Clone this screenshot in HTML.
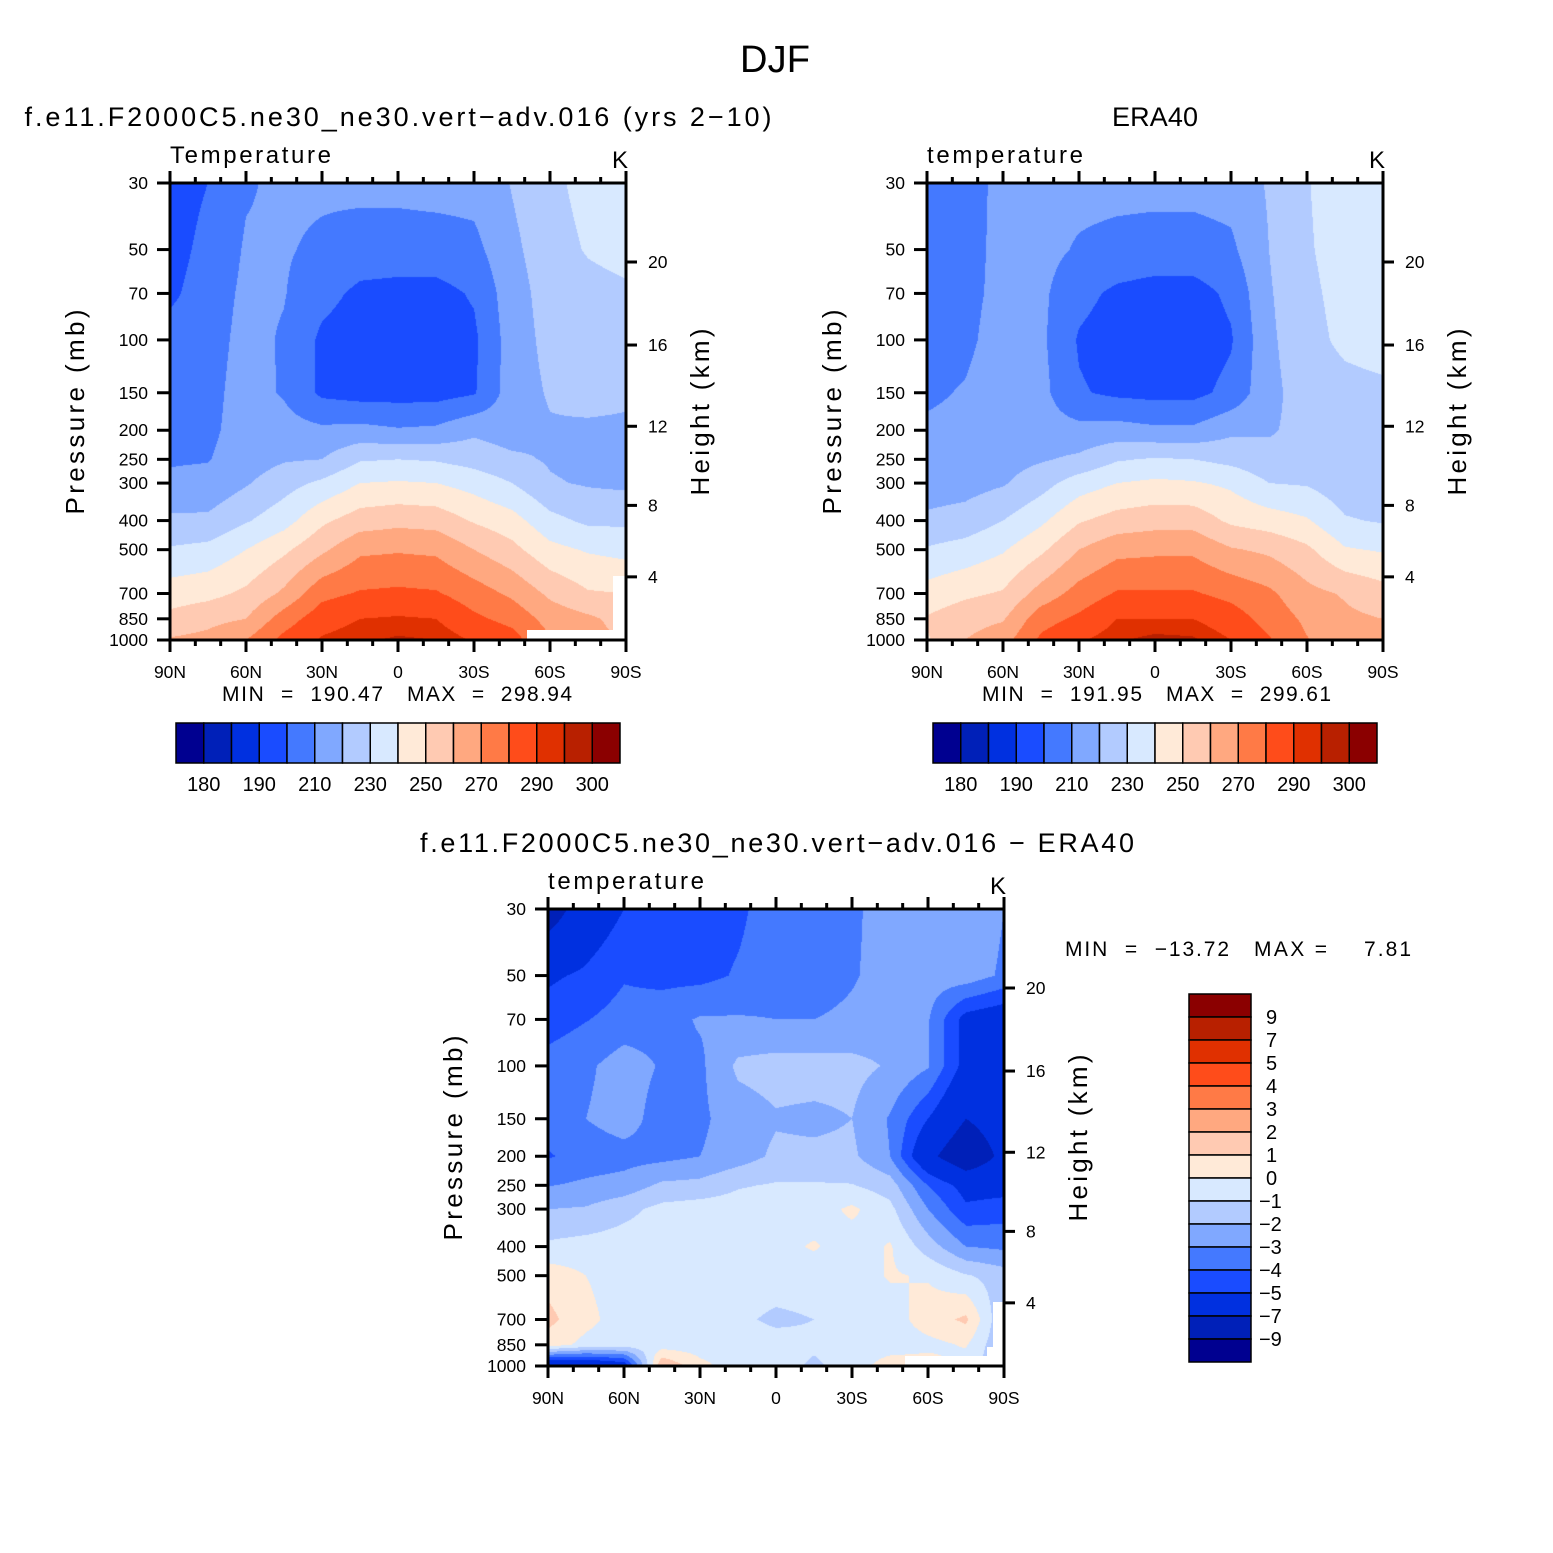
<!DOCTYPE html>
<html><head><meta charset="utf-8"><style>
html,body{margin:0;padding:0;background:#fff;}
#root{position:relative;width:1553px;height:1553px;overflow:hidden;font-family:"Liberation Sans",sans-serif;}
canvas{position:absolute;}
svg{position:absolute;left:0;top:0;}
</style></head><body>
<div id="root">
<canvas id="c1" width="456" height="457" style="left:170px;top:183px"></canvas>
<canvas id="c2" width="456" height="457" style="left:927px;top:183px"></canvas>
<canvas id="c3" width="456" height="457" style="left:548px;top:909px"></canvas>
<svg id="ov" width="1553" height="1553" xmlns="http://www.w3.org/2000/svg"></svg>
</div>
<script>
// ---- data ----
const lats=[90,75,60,45,30,15,0,-15,-30,-45,-60,-75,-90];
const levels=[30,50,70,100,150,200,250,300,400,500,700,850,1000];
// temperature (K), one profile per latitude (levels 30..1000 mb)
const modelT=[
[195,196,198,204,206,207,209,212,222,231,245,253,261],
[200,203,205,206,207,208,209.5,213,222,233,247,257,263],
[209,211,212,213,214,214,215,219,229,240,252,260,270],
[212,211,210.5,209,209,214,219,226,236,248,262,275,283],
[212,208,203,198,198,212,220,232,248,258,277,286,291],
[213,205,198,195,196,213,229,240,255,268,281,290,294],
[213,205,197,194,196,211,230,241,257,269,282,291,296],
[214,205,197,195,196,212,229,240,256,268,281,290,295],
[214,207,201,198,199,218,226,236,249,260,275,282,289],
[220.5,218,216,215,215,215,222,230,244,253,268,277,284],
[227,225,224,223,221,219,219,221,233,243,258,266,271],
[234,231,226,225,224,218,217,219,228,239,251,262,265],
[235,234,228,226,222,218,217,218,228,237,250,256,258]];
const eraT=[
[205,205,206,207,209,211,213,215,222,231,244,251,249],
[207,207.5,208,208.5,210.5,211.5,213,216,224,234,248,256,260],
[212,212,212,213,214,215,216,219,230,239,251,259,266],
[213,213,212,212,213,214,219,226,238,248,264,276,282],
[213,209,203,199,201,213,222,235,249,260,274,282,289],
[213,207,198,195,198,214,229,240,254,267,281,290,294],
[213,206,196,194,197,212,231,242,256,268,281,290,297],
[213,206,196,194,197,212,230,241,256,268,281,290,296],
[214,208,202,199,203,218,227,238,248,261,277,285,290],
[221,220,219,218,217,219,223,230,245,258,272,276,281],
[229.5,229,228,227,225,223,223,229,241,252,263,268,270.5],
[235,234,233,232,227,224,223,224,231,241,259,262,265],
[236,236,235,234,228,225,224,223,229,239,254,260,263]];
// difference (K), one row per level (lats 90N..90S)
const diffT=[
[-8,-6,-5,-4.5,-4.5,-4.2,-3.5,-3.5,-3.2,-2.5,-2.5,-2,-3],
[-5.2,-4.8,-4.1,-4.3,-4.3,-3.9,-3.5,-3.5,-3.1,-2.6,-2.5,-2.4,-3.2],
[-4.5,-4.05,-3.6,-3.4,-2.9,-2.9,-3,-3,-2.8,-2.5,-2.9,-5.5,-6],
[-3.6,-3.2,-2.5,-3.1,-3.2,-1.8,-1.6,-1.6,-1.7,-2.1,-2.9,-5.5,-6],
[-3.5,-3,-2.5,-3.5,-3.2,-2.5,-2.1,-2.2,-2,-3.1,-5,-7,-6],
[-4.1,-3.6,-3.4,-3.3,-3,-2.5,-1.8,-1.8,-1.8,-3,-6.5,-8.5,-6.5],
[-3.05,-2.8,-2.6,-1.8,-1.7,-1.1,-0.9,-0.9,-0.95,-1.5,-4,-5.5,-5.5],
[-2,-1.9,-1.3,-0.7,-0.5,-0.5,-0.5,-0.5,0.2,-0.7,-3,-4.8,-4.5],
[-0.8,-0.6,-0.5,-0.5,-0.5,-0.5,-0.3,0.1,-0.5,0.1,-1.5,-3,-3.2],
[0.6,0,-0.5,-0.5,-0.5,-0.5,-0.5,-0.5,-0.5,0.1,-0.1,-0.9,-1.5],
[1.3,0.3,-0.5,-0.5,-0.5,-0.8,-1.2,-1,-0.5,-0.5,0.5,1.2,-2],
[0.5,-0.3,-0.5,-0.5,-0.5,-0.5,-0.6,-0.8,-0.5,-0.5,-0.3,0.1,-2],
[-7,-7,-6,2,0.3,-0.5,-0.5,-1.2,-0.5,0.5,0.5,-0.5,-2]];
const tempLevels=[180,185,190,200,210,220,230,240,250,260,270,280,290,295,300];
const tempLabels=["180","190","210","230","250","270","290","300"];
const diffLevels=[-9,-7,-5,-4,-3,-2,-1,0,1,2,3,4,5,7,9];
const diffLabels=["9","7","5","4","3","2","1","0","\u22121","\u22122","\u22123","\u22124","\u22125","\u22127","\u22129"];
const pTicks=[30,50,70,100,150,200,250,300,400,500,700,850,1000];
const kmTicks=[4,8,12,16,20];
const kmPressure=[616,356,194,104,55];
const latTickLabels=["90N","60N","30N","0","30S","60S","90S"];
const colors=["#000090","#0020b8","#0030e0","#1a4cff","#4479ff","#80a8ff","#b2cbff","#d8e9ff","#ffead8","#ffcab2","#ffa880","#ff7a46","#ff4c1a","#e03000","#b82000","#8b0000"];

const W=456,H=457;
function yOfP(p){return H*Math.log10(p/30)/Math.log10(1000/30);}
function xOfLat(l){return W*(90-l)/180;}
function hex(c){return [parseInt(c.substr(1,2),16),parseInt(c.substr(3,2),16),parseInt(c.substr(5,2),16)];}
const rgb=colors.map(hex);
function bin(v,lv){let i=0;while(i<lv.length&&v>=lv[i])i++;return i;}

function render(id,get,lv){
  const cv=document.getElementById(id),ctx=cv.getContext('2d');
  const img=ctx.createImageData(W,H);
  const ly=levels.map(yOfP), lx=lats.map(xOfLat);
  for(let py=0;py<H;py++){
    let r=0;while(r<levels.length-2&&py+0.5>ly[r+1])r++;
    let fy=(py+0.5-ly[r])/(ly[r+1]-ly[r]);fy=Math.max(0,Math.min(1,fy));
    for(let px=0;px<W;px++){
      let c=0;while(c<lats.length-2&&px+0.5>lx[c+1])c++;
      let fx=(px+0.5-lx[c])/(lx[c+1]-lx[c]);fx=Math.max(0,Math.min(1,fx));
      const v=(1-fx)*(1-fy)*get(c,r)+fx*(1-fy)*get(c+1,r)+(1-fx)*fy*get(c,r+1)+fx*fy*get(c+1,r+1);
      const k=rgb[bin(v,lv)],o=(py*W+px)*4;
      img.data[o]=k[0];img.data[o+1]=k[1];img.data[o+2]=k[2];img.data[o+3]=255;
    }
  }
  ctx.putImageData(img,0,0);
}
render('c1',(c,r)=>modelT[c][r],tempLevels);
render('c2',(c,r)=>eraT[c][r],tempLevels);
render('c3',(c,r)=>diffT[r][c],diffLevels);

// ---- svg overlay ----
const NS="http://www.w3.org/2000/svg",ov=document.getElementById('ov');
function el(tag,a){const e=document.createElementNS(NS,tag);for(const k in a)e.setAttribute(k,a[k]);ov.appendChild(e);return e;}
function txt(x,y,s,size,anchor,name,extra){const e=el('text',Object.assign({x:x,y:y,'font-size':size,'text-anchor':anchor||'start','font-family':'Liberation Sans, sans-serif',fill:'#000'},extra||{}));e.textContent=s;


return e;}

function axes(ox,oy,pre,sub,subLen){
  const frame=el('rect',{x:ox,y:oy,width:W,height:H,fill:'none',stroke:'#000','stroke-width':3});
  
  
  pTicks.forEach(p=>{const y=oy+yOfP(p);
    const t=el('line',{x1:ox-13,x2:ox,y1:y,y2:y,stroke:'#000','stroke-width':3});
    
    
    txt(ox-22,y+6,String(p),17.5,'end',pre+'-pressure-tick-label');});
  kmTicks.forEach((k,i)=>{const y=oy+yOfP(kmPressure[i]);
    const t=el('line',{x1:ox+W,x2:ox+W+11,y1:y,y2:y,stroke:'#000','stroke-width':3});
    
    
    txt(ox+W+22,y+6,String(k),17.5,'start',pre+'-height-tick-label');});
  for(let l=90;l>=-90;l-=10){const x=ox+xOfLat(l),len=(l%30===0)?12:6;
    const a=el('line',{x1:x,x2:x,y1:oy-len,y2:oy,stroke:'#000','stroke-width':3});
    
    
    const b=el('line',{x1:x,x2:x,y1:oy+H,y2:oy+H+len,stroke:'#000','stroke-width':3});
    
    }
  latTickLabels.forEach((s,i)=>txt(ox+i*W/6,oy+H+38,s,17.5,'middle',pre+'-lat-tick-label'));
  txt(ox,oy-20,sub,24,'start',pre+'-variable-label',{textLength:subLen});
  txt(ox+W-6,oy-15,'K',24,'middle',pre+'-units-label');
  txt(0,0,'Pressure (mb)',26,'middle',pre+'-y-axis-title',{transform:`translate(${ox-86},${oy+229}) rotate(-90)`,textLength:205});
  txt(0,0,'Height (km)',26,'middle',pre+'-right-axis-title',{transform:`translate(${ox+W+83},${oy+229}) rotate(-90)`,textLength:167});
}
function mask(x,y,w,h,name){const m=el('rect',{x:x,y:y,width:w,height:h,fill:'#fff'});
  
  }
mask(527,630,99,9,'model-missing-data');mask(613,576,12,63,'model-missing-data');
mask(905,1356,98,9,'diff-missing-data');mask(987,1347,16,18,'diff-missing-data');mask(993,1302,10,63,'diff-missing-data');

axes(170,183,'model','Temperature',161);
axes(927,183,'era40','temperature',156);
axes(548,909,'diff','temperature',156);

txt(775,72,'DJF',38,'middle','figure-title',{textLength:70});
txt(398,126,'f.e11.F2000C5.ne30_ne30.vert\u2212adv.016 (yrs 2\u221210)',27,'middle','model-panel-title',{textLength:747});
txt(1155,126,'ERA40',27,'middle','era40-panel-title',{textLength:86});
txt(777,852,'f.e11.F2000C5.ne30_ne30.vert\u2212adv.016 \u2212 ERA40',27,'middle','diff-panel-title',{textLength:714});
txt(222,701,'MIN = 190.47',21,'start','model-min',{textLength:161,'word-spacing':8});
txt(407,701,'MAX = 298.94',21,'start','model-max',{textLength:165,'word-spacing':8});
txt(982,701,'MIN = 191.95',21,'start','era40-min',{textLength:160,'word-spacing':8});
txt(1166,701,'MAX = 299.61',21,'start','era40-max',{textLength:165,'word-spacing':8});
txt(1065,956,'MIN = \u221213.72',21,'start','diff-min',{textLength:164,'word-spacing':8});
txt(1254,956,'MAX =',21,'start','diff-max-label',{textLength:73});
txt(1364,956,'7.81',21,'start','diff-max-value',{textLength:47});

// horizontal colorbars
function hbar(ox,pre){const bw=444/16;
  colors.forEach((c,i)=>{const r=el('rect',{x:ox+i*bw,y:723,width:bw,height:40,fill:c,stroke:'#000','stroke-width':1.5});
    
    });
  tempLabels.forEach((s,i)=>txt(ox+(2*i+1)*bw,791,s,20,'middle',pre+'-colorbar-label'));}
hbar(176,'model');hbar(933,'era40');
// vertical colorbar
(function(){const bh=368/16;
  colors.slice().reverse().forEach((c,i)=>{const r=el('rect',{x:1189,y:994+i*bh,width:62,height:bh,fill:c,stroke:'#000','stroke-width':1.5});
    
    });
  diffLabels.forEach((s,i)=>txt(s[0]==='\u2212'?1259:1266,994+(i+1)*bh+7,s,20,'start','diff-colorbar-label'));})();
</script>
</body></html>
